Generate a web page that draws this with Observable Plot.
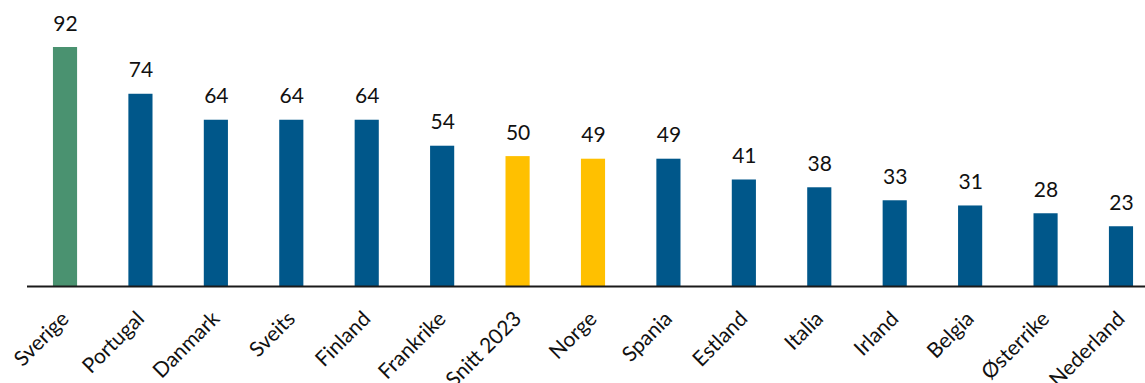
<!DOCTYPE html>
<html>
<head>
<meta charset="utf-8">
<script src="https://cdn.jsdelivr.net/npm/d3@7"></script>
<script src="https://cdn.jsdelivr.net/npm/@observablehq/plot@0.6"></script>
<style>
  html, body { margin: 0; padding: 0; background: #fff; }
  #chart svg { display: block; }
</style>
</head>
<body>
<div id="chart"></div>
<script>
const categories = ["Sverige", "Portugal", "Danmark", "Sveits", "Finland", "Frankrike", "Snitt 2023", "Norge", "Spania", "Estland", "Italia", "Irland", "Belgia", "Østerrike", "Nederland"];
const values = [92, 74, 64, 64, 64, 54, 50, 49, 49, 41, 38, 33, 31, 28, 23];
const groups = ["Sverige", "Andre", "Andre", "Andre", "Andre", "Andre", "Snitt", "Norge", "Andre", "Andre", "Andre", "Andre", "Andre", "Andre", "Andre"];

const data = categories.map((c, i) => ({category: c, value: values[i], group: groups[i]}));
const font = "Lato, 'DejaVu Sans', sans-serif";

const chart = Plot.plot({
  width: 1145,
  height: 383,
  marginLeft: 27,
  marginRight: 0,
  marginTop: 0,
  marginBottom: 0,
  style: {fontFamily: font, background: "#fff"},
  x: {domain: categories, range: [27.3, 1158.7], paddingInner: 0.68, paddingOuter: 0.34, round: false, axis: null},
  y: {domain: [0, 92], range: [286, 47], axis: null},
  color: {domain: ["Sverige", "Andre", "Snitt", "Norge"], range: ["#4a9270", "#00578a", "#ffc000", "#ffc000"]},
  marks: [
    Plot.barY(data, {x: "category", y: "value", fill: "group"}),
    Plot.ruleY([0], {stroke: "#1a1a1a", strokeWidth: 2}),
    Plot.text(data, {x: "category", y: "value", text: d => String(d.value), dy: -17, lineAnchor: "bottom", fontSize: 21, fill: "#111"}),
    Plot.text(data, {x: "category", y: () => 0, text: "category", rotate: -45, textAnchor: "end", lineAnchor: "top", dx: -6, dy: 23, fontSize: 21, fill: "#111"})
  ]
});
document.getElementById("chart").appendChild(chart);
</script>
</body>
</html>
